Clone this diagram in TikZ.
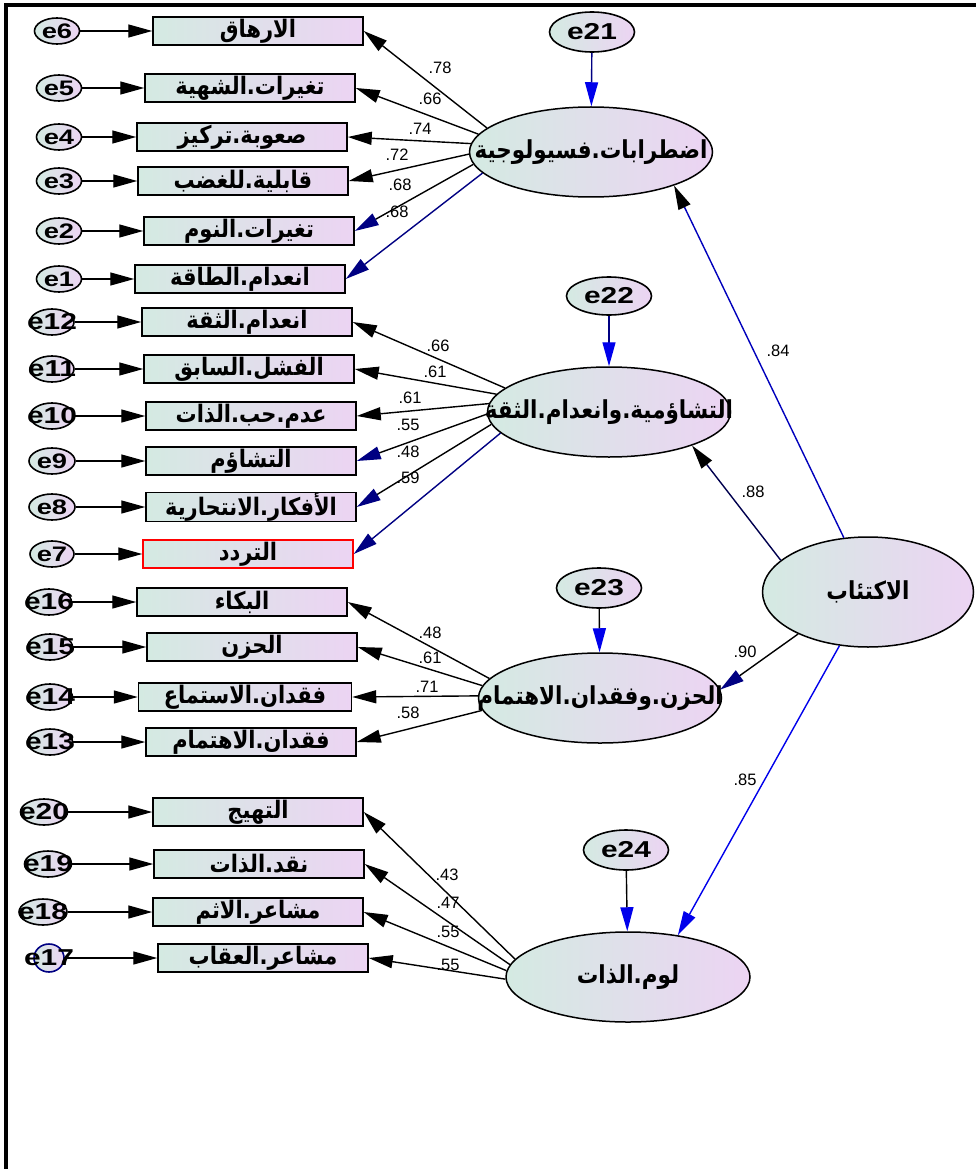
\documentclass[tikz,border=0pt]{standalone}
\usepackage{fontspec}
\setmainfont{Liberation Sans}
\newfontfamily\arfont[Script=Arabic]{DejaVu Sans}
\TeXXeTstate=1
\usetikzlibrary{arrows.meta,shapes.geometric}
\definecolor{gl}{RGB}{212,234,226}
\definecolor{gr}{RGB}{236,212,243}
\definecolor{navyb}{RGB}{0,0,130}
\definecolor{bblue}{RGB}{0,0,235}
\newcommand{\AR}[1]{\scalebox{1}[1.15]{\arfont\bfseries\beginR #1\endR}}
\newcommand{\LAR}[1]{\makebox[0pt][c]{\scalebox{1}[1.15]{\arfont\bfseries\beginR #1\endR}}}
\newcommand{\eLab}[1]{\scalebox{1.3}[1]{#1}}
\begin{document}
\begin{tikzpicture}[x=1pt,y=-1pt,
  ind/.style={draw, line width=1.5pt, rectangle, minimum width=210pt, minimum height=28pt, inner sep=0pt,
    left color=gl, right color=gr, font=\fontsize{21}{22}\selectfont},
  err/.style={draw, line width=1.6pt, ellipse, minimum width=46pt, minimum height=26pt, inner sep=0pt,
    left color=gl, right color=gr},
  eb/.style={font=\bfseries\fontsize{21}{21}\selectfont},
  eb2/.style={font=\bfseries\fontsize{23}{23}\selectfont},
  lat/.style={draw, line width=1.5pt, ellipse, minimum width=243pt, minimum height=90pt, inner sep=0pt,
    left color=gl, right color=gr, font=\fontsize{21.5}{23}\selectfont},
  co/.style={font=\fontsize{16.5}{16.5}\selectfont, inner sep=0pt},
  tip/.style={-{Triangle[length=24pt,width=13pt]}},
  ln/.style={line width=1.4pt, tip},
  frame/.style={line width=3.5pt}
]
\useasboundingbox (0,0) rectangle (976,1169);
\draw[frame] (6,1169) -- (6,5) -- (976,5);

% ---------- Group 1 ----------
\node[lat] (L1) at (591,152) {\LAR{اضطرابات.فسيولوجية}};
\node[err, minimum width=85pt, minimum height=40pt, label={[eb2]center:\eLab{e21}}] (e21) at (592,32) {};
\draw[line width=1.4pt, navyb, -{Triangle[length=24pt,width=13pt,color=bblue]}] (e21) -- (L1);

\node[ind] (b6) at (258,31) {\AR{الارهاق}};
\node[ind] (b5) at (250,88) {\AR{تغيرات.الشهية}};
\node[ind] (b4) at (242,137) {\AR{صعوبة.تركيز}};
\node[ind] (b3) at (243,181) {\AR{قابلية.للغضب}};
\node[ind] (b2) at (249,231) {\AR{تغيرات.النوم}};
\node[ind] (b1) at (240,279) {\AR{انعدام.الطاقة}};

\node[err, minimum width=45pt, label={[eb]center:\eLab{e6}}] (e6) at (57,31) {};
\node[err, minimum width=45pt, label={[eb]center:\eLab{e5}}] (e5) at (59,88) {};
\node[err, minimum width=45pt, label={[eb]center:\eLab{e4}}] (e4) at (59,137) {};
\node[err, minimum width=45pt, label={[eb]center:\eLab{e3}}] (e3) at (59,181) {};
\node[err, minimum width=45pt, label={[eb]center:\eLab{e2}}] (e2) at (59,231) {};
\node[err, minimum width=45pt, label={[eb]center:\eLab{e1}}] (e1) at (59,279) {};

\foreach \i in {1,...,6}{\draw[ln] (e\i) -- (b\i);}

\draw[ln] (L1.167) -- (b6.east);
\draw[ln] (L1.171) -- (b5.east);
\draw[ln] (L1.176) -- (b4.east);
\draw[ln] (L1.181) -- (b3.east);
\draw[line width=1.4pt, -{Triangle[length=24pt,width=13pt,color=navyb]}] (L1.186) -- (b2.east);
\draw[ln, navyb] (L1.191) -- (b1.east);

\node[co] (c6) at (440,68) {.78};
\node[co] (c5) at (430,99) {.66};
\node[co] (c4) at (420,129) {.74};
\node[co] (c3) at (397,155) {.72};
\node[co] (c2) at (400,185) {.68};
\node[co] (c1) at (397,212) {.68};

% ---------- Group 2 ----------
\node[lat] (L2) at (609,412) {\LAR{التشاؤمية.وانعدام.الثقة}};
\node[err, minimum width=85pt, minimum height=38pt, label={[eb2]center:\eLab{e22}}] (e22) at (609,296) {};
\draw[line width=1.4pt, navyb, -{Triangle[length=24pt,width=13pt,color=bblue]}] (e22) -- (L2);

\node[ind] (b12) at (247,322) {\AR{انعدام.الثقة}};
\node[ind] (b11) at (249,369) {\AR{الفشل.السابق}};
\node[ind] (b10) at (251,416) {\AR{عدم.حب.الذات}};
\node[ind] (b9) at (251,461) {\AR{التشاؤم}};
\node[ind] (b8) at (251,507) {\AR{الأفكار.الانتحارية}};
\node[ind, draw=red] (b7) at (248,554) {\AR{التردد}};

\node[err, minimum width=44pt, label={[eb2]center:\eLab{e12}}] (e12) at (52,322) {};
\node[err, minimum width=44pt, label={[eb2]center:\eLab{e11}}] (e11) at (52,369) {};
\node[err, minimum width=44pt, label={[eb2]center:\eLab{e10}}] (e10) at (52,416) {};
\node[err, minimum width=46pt, label={[eb]center:\eLab{e9}}] (e9) at (52,461) {};
\node[err, minimum width=46pt, label={[eb]center:\eLab{e8}}] (e8) at (52,507) {};
\node[err, minimum width=44pt, label={[eb]center:\eLab{e7}}] (e7) at (52,554) {};

\foreach \i in {7,...,12}{\draw[ln] (e\i) -- (b\i);}

\draw[ln] (L2.167) -- (b12.east);
\draw[ln] (L2.171) -- (b11.east);
\draw[ln] (L2.176) -- (b10.east);
\draw[line width=1.4pt, -{Triangle[length=24pt,width=13pt,color=navyb]}] (L2.181) -- (b9.east);
\draw[line width=1.4pt, -{Triangle[length=24pt,width=13pt,color=navyb]}] (L2.186) -- (b8.east);
\draw[ln, navyb] (L2.191) -- (b7.east);

\node[co] (c12) at (438,346) {.66};
\node[co] (c11) at (435,372) {.61};
\node[co] (c10) at (410,398) {.61};
\node[co] (c9) at (408,425) {.55};
\node[co] (c8) at (408,452) {.48};
\node[co] (c7) at (408,478) {.59};

% ---------- Group 3 ----------
\node[lat] (L3) at (600,698) {\LAR{الحزن.وفقدان.الاهتمام}};
\node[err, minimum width=85pt, minimum height=40pt, label={[eb2]center:\eLab{e23}}] (e23) at (599,588) {};
\draw[line width=1.4pt, -{Triangle[length=24pt,width=13pt,color=bblue]}] (e23) -- (L3);

\node[ind] (b16) at (242,602) {\AR{البكاء}};
\node[ind] (b15) at (252,647) {\AR{الحزن}};
\node[ind, minimum width=213pt] (b14) at (245,697) {\AR{فقدان.الاستماع}};
\node[ind] (b13) at (251,742) {\AR{فقدان.الاهتمام}};

\node[err, minimum width=45pt, label={[eb2]center:\eLab{e16}}] (e16) at (49,602) {};
\node[err, minimum width=45pt, label={[eb2]center:\eLab{e15}}] (e15) at (50,647) {};
\node[err, minimum width=45pt, label={[eb2]center:\eLab{e14}}] (e14) at (50,697) {};
\node[err, minimum width=45pt, label={[eb2]center:\eLab{e13}}] (e13) at (50,742) {};

\foreach \i in {13,...,16}{\draw[ln] (e\i) -- (b\i);}

\draw[ln] (L3.170) -- (b16.east);
\draw[ln] (L3.174) -- (b15.east);
\draw[ln] (L3.179) -- (b14.east);
\draw[ln] (L3.186) -- (b13.east);

\node[co] (c16) at (430,633) {.48};
\node[co] (c15) at (430,658) {.61};
\node[co] (c14) at (427,687) {.71};
\node[co] (c13) at (408,713) {.58};

% ---------- Group 4 ----------
\node[lat, minimum width=244pt] (L4) at (628,977) {\LAR{لوم.الذات}};
\node[err, minimum width=85pt, minimum height=40pt, label={[eb2]center:\eLab{e24}}] (e24) at (626,850) {};
\draw[line width=1.4pt, -{Triangle[length=24pt,width=13pt,color=bblue]}] (e24) -- (L4);

\node[ind] (b20) at (258,812) {\AR{التهيج}};
\node[ind] (b19) at (259,864) {\AR{نقد.الذات}};
\node[ind] (b18) at (258,912) {\AR{مشاعر.الاثم}};
\node[ind] (b17) at (263,958) {\AR{مشاعر.العقاب}};

\node[err, minimum width=47pt, label={[eb2]center:\eLab{e20}}] (e20) at (44,812) {};
\node[err, minimum width=47pt, label={[eb2]center:\eLab{e19}}] (e19) at (48,864) {};
\node[err, minimum width=48pt, label={[eb2]center:\eLab{e18}}] (e18) at (43,912) {};
\node[err, minimum width=30pt, minimum height=28pt, draw=navyb, label={[eb2]center:\eLab{e17}}] (e17) at (49,958) {};

\foreach \i in {17,...,20}{\draw[ln] (e\i) -- (b\i);}

\draw[ln] (L4.171) -- (b20.east);
\draw[ln] (L4.174) -- (b19.east);
\draw[ln] (L4.177.5) -- (b18.east);
\draw[ln] (L4.181) -- (b17.east);

\node[co] (c20) at (447,875) {.43};
\node[co] (c19) at (448,903) {.47};
\node[co] (c18) at (448,932) {.55};
\node[co] (c17) at (448,965) {.55};

% ---------- Main factor ----------
\node[lat, minimum width=211pt, minimum height=110pt] (D) at (868,592) {\LAR{الاكتئاب}};

\draw[line width=1.4pt, bblue!80!black, -{Triangle[length=24pt,width=13pt,color=black]}] (D.114) -- (L1.338.5);
\draw[line width=1.4pt, navyb!60!black, -{Triangle[length=24pt,width=13pt,color=black]}] (D.160) -- (L2.338.5);
\draw[line width=1.4pt, -{Triangle[length=24pt,width=13pt,color=navyb]}] (D.211.6) -- (L3.4);
\draw[ln, bblue] (D.242) -- (L4.40);

\node[co] (cL1) at (778,351) {.84};
\node[co] (cL2) at (753,492) {.88};
\node[co] (cL3) at (745,652) {.90};
\node[co] (cL4) at (745,780) {.85};
\end{tikzpicture}
\end{document}
